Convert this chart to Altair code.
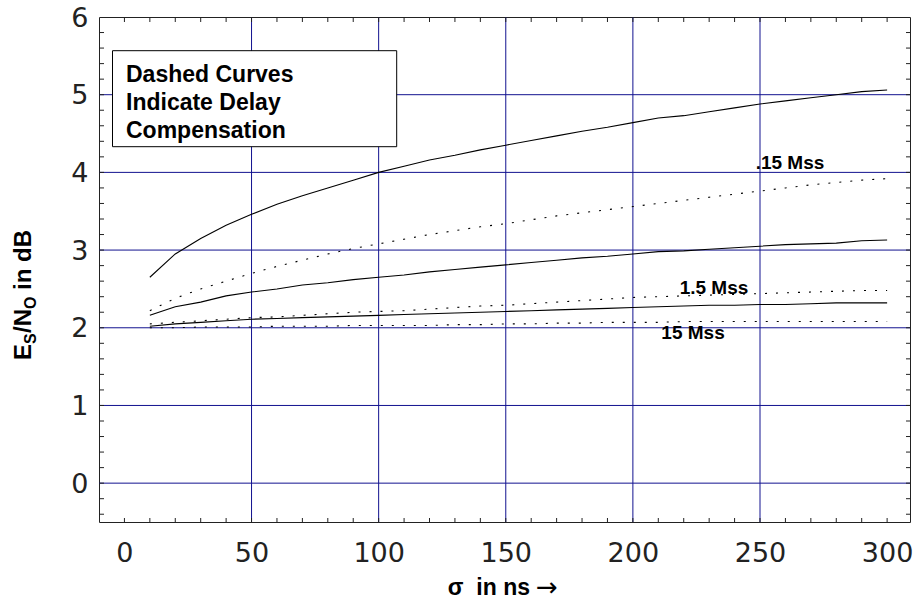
import altair as alt
import pandas as pd

# ---------------- data ----------------
sigma_ns = [10, 20, 30, 40, 50, 60, 70, 80, 90, 100,
            110, 120, 130, 140, 150, 160, 170, 180, 190, 200,
            210, 220, 230, 240, 250, 260, 270, 280, 290, 300]

solid_015 = [2.65, 2.95, 3.15, 3.32, 3.46, 3.59, 3.70, 3.80, 3.90, 4.00,
             4.08, 4.16, 4.22, 4.29, 4.35, 4.41, 4.47, 4.53, 4.58, 4.64,
             4.70, 4.73, 4.78, 4.83, 4.88, 4.92, 4.96, 5.00, 5.04, 5.06]
dotted_015 = [2.22, 2.38, 2.50, 2.60, 2.70, 2.79, 2.87, 2.95, 3.02, 3.08,
              3.14, 3.20, 3.25, 3.30, 3.34, 3.39, 3.44, 3.48, 3.52, 3.56,
              3.60, 3.64, 3.68, 3.72, 3.76, 3.80, 3.84, 3.87, 3.90, 3.92]
solid_1_5 = [2.16, 2.27, 2.33, 2.41, 2.46, 2.50, 2.55, 2.58, 2.62, 2.65,
             2.68, 2.72, 2.75, 2.78, 2.81, 2.84, 2.87, 2.90, 2.92, 2.95,
             2.98, 2.99, 3.01, 3.03, 3.05, 3.07, 3.08, 3.09, 3.12, 3.13]
dotted_1_5 = [2.05, 2.07, 2.09, 2.11, 2.13, 2.14, 2.16, 2.18, 2.20, 2.21,
              2.22, 2.24, 2.26, 2.28, 2.29, 2.31, 2.33, 2.35, 2.37, 2.39,
              2.40, 2.41, 2.42, 2.43, 2.44, 2.45, 2.46, 2.47, 2.48, 2.48]
solid_15 = [2.02, 2.05, 2.07, 2.09, 2.11, 2.12, 2.13, 2.14, 2.15, 2.16,
            2.17, 2.18, 2.19, 2.20, 2.21, 2.22, 2.23, 2.24, 2.25, 2.26,
            2.27, 2.28, 2.29, 2.29, 2.30, 2.30, 2.31, 2.32, 2.32, 2.32]
dotted_15 = [2.00, 2.00, 2.01, 2.01, 2.01, 2.02, 2.02, 2.02, 2.03, 2.03,
             2.03, 2.03, 2.04, 2.04, 2.05, 2.05, 2.06, 2.06, 2.07, 2.07,
             2.07, 2.08, 2.08, 2.08, 2.08, 2.08, 2.08, 2.08, 2.08, 2.08]

x_tick_labels = [0, 50, 100, 150, 200, 250, 300]
y_tick_labels = [0, 1, 2, 3, 4, 5, 6]
x_grid = [50, 100, 150, 200, 250]
y_grid = [0, 1, 2, 3, 4, 5]
x_minor = [0, 10, 20, 30, 40, 50, 60, 70, 80, 90, 100, 110, 120, 130, 140, 150,
           160, 170, 180, 190, 200, 210, 220, 230, 240, 250, 260, 270, 280, 290, 300]
y_minor = [-0.4, -0.2, 0.0, 0.2, 0.4, 0.6, 0.8, 1.0, 1.2, 1.4, 1.6, 1.8, 2.0, 2.2,
           2.4, 2.6, 2.8, 3.0, 3.2, 3.4, 3.6, 3.8, 4.0, 4.2, 4.4, 4.6, 4.8, 5.0,
           5.2, 5.4, 5.6, 5.8]

curve_labels = [".15 Mss", "1.5 Mss", "15 Mss"]
curve_label_x = [248.3, 218.4, 211.2]
curve_label_y = [4.05, 2.44, 1.86]

legend_lines = ["Dashed Curves", "Indicate Delay", "Compensation"]

# ---------------- tables ----------------
series = [
    (".15 Mss", "solid", solid_015), (".15 Mss", "dotted", dotted_015),
    ("1.5 Mss", "solid", solid_1_5), ("1.5 Mss", "dotted", dotted_1_5),
    ("15 Mss", "solid", solid_15), ("15 Mss", "dotted", dotted_15),
]
df = pd.DataFrame([
    {"sigma": s, "value": v, "series": f"{name} {style}", "style": style}
    for name, style, vals in series for s, v in zip(sigma_ns, vals)
])
df_solid = df[df["style"] == "solid"]
df_dotted = df[df["style"] == "dotted"]
labels_df = pd.DataFrame({"text": curve_labels, "lx": curve_label_x, "ly": curve_label_y})
one = pd.DataFrame({"k": [0]})

W, H = 811, 505
GRID = "#12128f"
FRAME = "#222222"
BOLD = "Liberation Sans"

xs = alt.Scale(domain=[-10, 309], nice=False, zero=False)
ys = alt.Scale(domain=[-0.5, 6], nice=False, zero=False)

axis_common = dict(domain=False, ticks=False, tickSize=0, grid=False,
                   labelFont="DejaVu Sans", labelFontSize=27, labelColor="#222222",
                   labelFlush=False, labelOverlap=False, title=None)
X_AXIS = alt.Axis(values=x_tick_labels, labelPadding=18, labelBaseline="top",
                  labelAlign="center", **axis_common)
Y_AXIS = alt.Axis(values=y_tick_labels, labelPadding=11, labelOffset=1,
                  labelBaseline="middle", labelAlign="right", **axis_common)


def X(field):
    return alt.X(field, scale=xs, axis=X_AXIS)


def Y(field):
    return alt.Y(field, scale=ys, axis=Y_AXIS)


vgrid = alt.Chart(pd.DataFrame({"gx": x_grid})).mark_rule(color=GRID, strokeWidth=1).encode(
    x=X("gx:Q"))
hgrid = alt.Chart(pd.DataFrame({"gy": y_grid})).mark_rule(color=GRID, strokeWidth=1).encode(
    y=Y("gy:Q"))

xt = pd.DataFrame({"tx": x_minor})
yt = pd.DataFrame({"ty": y_minor})
bottom_ticks = alt.Chart(xt).mark_rule(color=FRAME).encode(
    x=X("tx:Q"), y=alt.value(H), y2=alt.value(H - 4))
top_ticks = alt.Chart(xt).mark_rule(color=FRAME).encode(
    x=X("tx:Q"), y=alt.value(0), y2=alt.value(5))
left_ticks = alt.Chart(yt).mark_rule(color=FRAME).encode(
    y=Y("ty:Q"), x=alt.value(0), x2=alt.value(5))
right_ticks = alt.Chart(yt).mark_rule(color=FRAME).encode(
    y=Y("ty:Q"), x=alt.value(W), x2=alt.value(W - 4))

box = alt.Chart(one).mark_rect(fill="white", stroke="black", strokeWidth=1).encode(
    x=alt.value(13.5), x2=alt.value(297.7), y=alt.value(33.7), y2=alt.value(129.7))
box_text = alt.Chart(one).mark_text(
    text=legend_lines, align="left", baseline="alphabetic", lineHeight=28.3,
    font=BOLD, fontWeight="bold", fontSize=23, color="black"
).encode(x=alt.value(27), y=alt.value(64.7))

solid_lines = alt.Chart(df_solid).mark_line(color="black", strokeWidth=1.1).encode(
    x=X("sigma:Q"), y=Y("value:Q"), detail="series:N")
dotted_lines = alt.Chart(df_dotted).mark_line(color="black", strokeWidth=1.1,
                                              strokeDash=[2, 9]).encode(
    x=X("sigma:Q"), y=Y("value:Q"), detail="series:N")

curve_text = alt.Chart(labels_df).mark_text(
    align="left", baseline="alphabetic", font=BOLD, fontWeight="bold", fontSize=19,
    color="black"
).encode(x=X("lx:Q"), y=Y("ly:Q"), text="text:N")


# y-axis title "E_S/N_O in dB" built from rotated pieces
def ypiece(txt, size, xpos, ypos):
    return alt.Chart(one).mark_text(
        text=txt, angle=270, align="left", baseline="alphabetic",
        font=BOLD, fontWeight="bold", fontSize=size, color="black"
    ).encode(x=alt.value(xpos), y=alt.value(ypos))


ytitle = [
    ypiece("E", 24, -68, 343),
    ypiece("S", 16, -63, 327),
    ypiece("/N", 24, -68, 316),
    ypiece("O", 16, -63, 292),
    ypiece("in dB", 24, -68, 273),
]

xtitle = alt.Chart(one).mark_text(
    text="σ\u00a0\u00a0in ns", align="right", baseline="alphabetic",
    font=BOLD, fontWeight="bold", fontSize=23, color="black"
).encode(x=alt.value(431), y=alt.value(578))
xarrow = alt.Chart(one).mark_text(
    text="→", align="left", baseline="middle",
    font="DejaVu Sans", fontSize=26, color="black"
).encode(x=alt.value(437), y=alt.value(571))

chart = alt.layer(
    vgrid, hgrid, bottom_ticks, top_ticks, left_ticks, right_ticks,
    box, box_text, solid_lines, dotted_lines, curve_text, xtitle, xarrow, *ytitle
).properties(
    width=W, height=H,
    autosize=alt.AutoSizeParams(type="none"),
    padding={"left": 99, "top": 17, "right": 4, "bottom": 81},
).configure_view(stroke=FRAME, strokeWidth=1)

chart.save("out.html", embed_options={"renderer": "svg", "actions": False})
